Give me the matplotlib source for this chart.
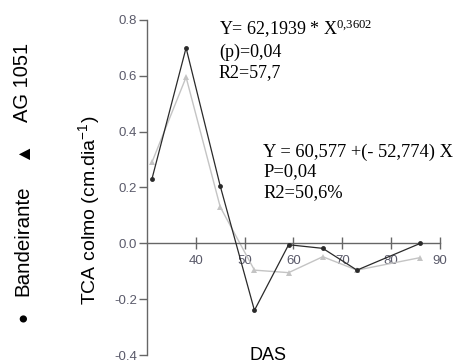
import numpy as np
import matplotlib.pyplot as plt

plt.rcParams['axes.unicode_minus'] = False

# days after sowing (DAS) and growth rate of the culm
das = [31, 38, 45, 52, 59, 66, 73, 86]
bandeirante = [0.23, 0.70, 0.205, -0.24, -0.005, -0.018, -0.096, 0.0]
ag1051 = [0.29, 0.595, 0.13, -0.096, -0.105, -0.048, -0.096, -0.051]

xticks = [40, 50, 60, 70, 80, 90]
yticks = [-0.4, -0.2, 0.0, 0.2, 0.4, 0.6, 0.8]

fig = plt.figure(figsize=(4.57, 3.63), dpi=100)
ax = fig.add_axes([0.3217, 0.022, 0.641, 0.923])

ax.plot(das, ag1051, color='#c4c4c4', lw=1, marker='^', ms=4.5,
        markeredgewidth=0, zorder=2)
ax.plot(das, bandeirante, color='#2a2a2a', lw=0.9, marker='o', ms=3.5,
        markeredgewidth=0, zorder=3)

ax.set_xlim(30, 90)
ax.set_ylim(-0.4, 0.8)
ax.set_xticks(xticks)
ax.set_yticks(yticks)
ax.set_yticklabels(['%.1f' % v for v in yticks])

for s in ['top', 'right']:
    ax.spines[s].set_visible(False)
ax.spines['bottom'].set_position(('data', 0))
ax.spines['left'].set_position(('data', 30))
for s in ['bottom', 'left']:
    ax.spines[s].set_color('#666666')
    ax.spines[s].set_linewidth(1)

ax.tick_params(axis='x', direction='inout', length=9, width=1, color='#666666',
               labelsize=9.5, labelcolor='#5a5a6a', pad=4)
ax.tick_params(axis='y', direction='out', length=6, width=1, color='#666666',
               labelsize=9.5, labelcolor='#5a5a6a', pad=1)
for lab in ax.get_xticklabels() + ax.get_yticklabels():
    lab.set_family('Liberation Sans')

serif = 'Liberation Serif'
fig.text(219 / 457, 1 - 29 / 363, r'Y= 62,1939 * X$\mathregular{^{0{,}3602}}$',
         family=serif, fontsize=13, va='center', ha='left')
fig.text(219 / 457, 1 - 52 / 363, '(p)=0,04', family=serif, fontsize=13,
         va='center', ha='left')
fig.text(219 / 457, 1 - 73 / 363, 'R2=57,7', family=serif, fontsize=13,
         va='center', ha='left')

fig.text(263 / 457, 1 - 152 / 363, 'Y = 60,577 +(- 52,774) X', family=serif,
         fontsize=13.3, va='center', ha='left')
fig.text(263 / 457, 1 - 172 / 363, 'P=0,04', family=serif, fontsize=13.3,
         va='center', ha='left')
fig.text(263 / 457, 1 - 193 / 363, 'R2=50,6%', family=serif, fontsize=13.3,
         va='center', ha='left')

fig.text(268 / 457, 1 - 356 / 363, 'DAS', family='Liberation Sans',
         fontsize=13, ha='center', va='center')
fig.text(89 / 457, 1 - 210 / 363, r'TCA colmo (cm.dia$\mathregular{^{-1}}$)',
         family='Liberation Sans', fontsize=14, rotation=90,
         ha='center', va='center')

sans = ['Liberation Sans', 'DejaVu Sans']
fig.text(23 / 457, 1 - 82 / 363, 'AG 1051', family=sans, fontsize=14.5,
         rotation=90, ha='center', va='center')
fig.text(23 / 457, 1 - 150 / 363, '▲', family=sans, fontsize=14,
         rotation=90, ha='center', va='center')
fig.text(23 / 457, 1 - 241 / 363, 'Bandeirante', family=sans, fontsize=14.8,
         rotation=90, ha='center', va='center')
fig.text(23 / 457, 1 - 317 / 363, '●', family=sans, fontsize=12,
         rotation=90, ha='center', va='center')

fig.savefig('out.png', dpi=100)
